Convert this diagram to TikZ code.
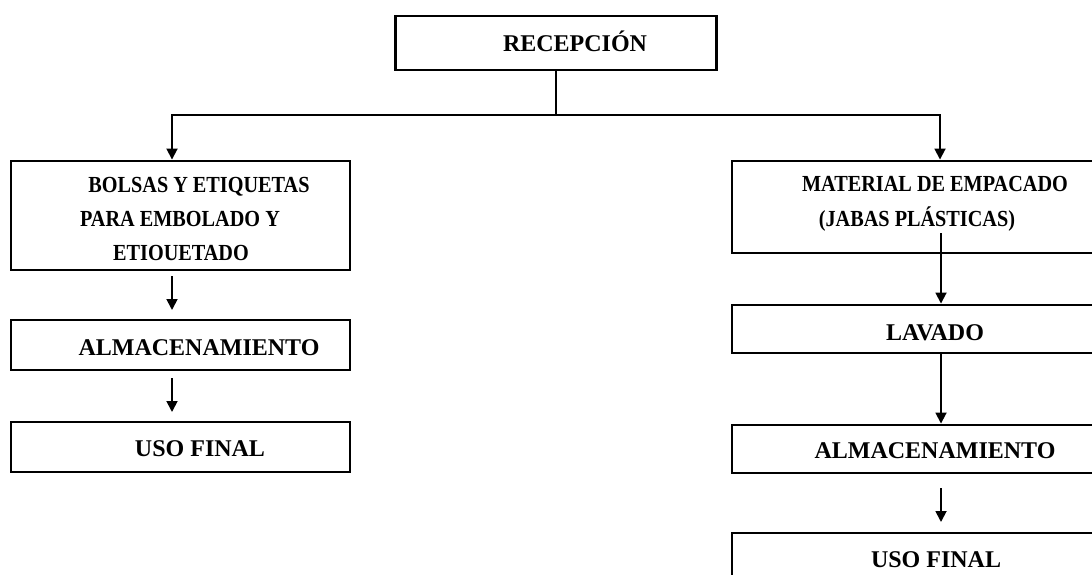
\documentclass[tikz,border=0pt]{standalone}
\usepackage{fontspec}
\setmainfont{Liberation Serif}
\newfontfamily\narrowserif[FakeStretch=0.88]{Liberation Serif}
\usetikzlibrary{arrows.meta,calc}
\tikzset{
  box/.style={draw, line width=2.9pt, inner sep=0pt},
  big/.style={font=\bfseries\fontsize{24}{28}\selectfont, inner sep=0pt, anchor=base},
  small/.style={font=\narrowserif\bfseries\fontsize{23}{27}\selectfont, inner sep=0pt, anchor=base},
  conn/.style={line width=1.8pt},
  arr/.style={conn, -{Triangle[length=11pt,width=11pt]}},
}
\begin{document}
\begin{tikzpicture}[x=1pt,y=-1pt]
\useasboundingbox (0,0) rectangle (1092,575);
\clip (0,0) rectangle (1092,575);

% boxes
\node[box, minimum width=321pt, minimum height=54pt] (rec) at (556,43) {};
\node[box, minimum width=339pt, minimum height=109pt] (L1) at (180.5,215.5) {};
\node[box, minimum width=339pt, minimum height=50pt] (L2) at (180.5,345) {};
\node[box, minimum width=339pt, minimum height=50pt] (L3) at (180.5,447) {};
\node[box, minimum width=368pt, minimum height=92pt] (R1) at (916,207) {};
\node[box, minimum width=368pt, minimum height=48pt] (R2) at (916,329) {};
\node[box, minimum width=368pt, minimum height=48pt] (R3) at (916,449) {};
\node[box, minimum width=368pt, minimum height=52pt] (R4) at (916,559) {};

% texts
\node[big] (trec) at (575,51.5) {RECEPCIÓN};
\node[small] (tl1a) at (199,192.5) {BOLSAS Y ETIQUETAS};
\node[small] (tl1b) at (180,226) {PARA EMBOLADO Y};
\node[small] (tl1c) at (181,260.5) {ETIOUETADO};
\node[big] (tl2) at (199,355) {ALMACENAMIENTO};
\node[big] (tl3) at (200,456.5) {USO FINAL};
\node[small] (tr1a) at (935,191.7) {MATERIAL DE EMPACADO};
\node[small] (tr1b) at (917,226.7) {(JABAS PLÁSTICAS)};
\node[big] (tr2) at (935,340) {LAVADO};
\node[big] (tr3) at (935,458.3) {ALMACENAMIENTO};
\node[big] (tr4) at (936,567.3) {USO FINAL};

% connector coordinates
\coordinate (hl) at (172,115);
\coordinate (hr) at (940,115);
\coordinate (la1s) at (172,276);
\coordinate (la1e) at (172,310);
\coordinate (la2s) at (172,378);
\coordinate (la2e) at (172,412);
\coordinate (ra1s) at (941,233);
\coordinate (ra3s) at (941,488);
\coordinate (ra3e) at (941,522);

% connectors
\draw[conn] (rec.south) -- (rec.south |- hl);
\draw[arr] (rec.south |- hl) -| (hl |- L1.north);
\draw[arr] (rec.south |- hr) -| (hr |- R1.north);
\draw[arr] (la1s) -- (la1e);
\draw[arr] (la2s) -- (la2e);
\draw[arr] (ra1s) -- (ra1s |- R2.north);
\draw[arr] (R2.south -| ra1s) -- (ra1s |- R3.north);
\draw[arr] (ra3s) -- (ra3e);
\end{tikzpicture}
\end{document}
